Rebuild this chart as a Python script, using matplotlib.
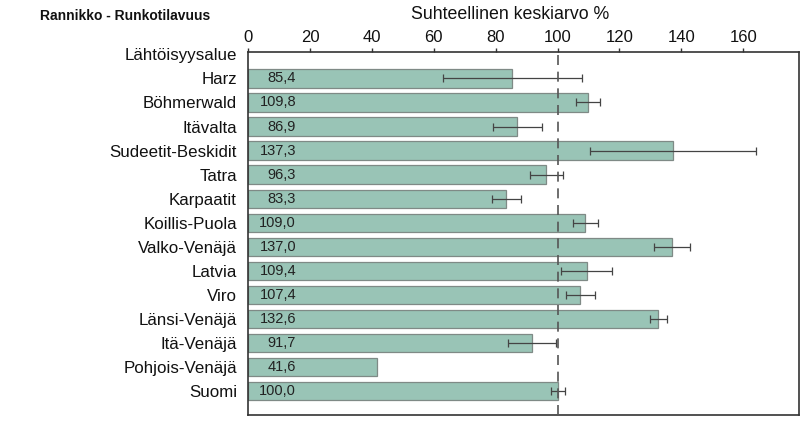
import matplotlib
matplotlib.use("Agg")
import matplotlib.pyplot as plt
import numpy as np

plt.rcParams["font.family"] = ["Liberation Sans", "DejaVu Sans"]

# ---------------------------------------------------------------------
# Data
# ---------------------------------------------------------------------
header = "Lähtöisyysalue"
regions = ["Harz", "Böhmerwald", "Itävalta", "Sudeetit-Beskidit", "Tatra",
           "Karpaatit", "Koillis-Puola", "Valko-Venäjä", "Latvia", "Viro",
           "Länsi-Venäjä", "Itä-Venäjä", "Pohjois-Venäjä", "Suomi"]
values = [85.4, 109.8, 86.9, 137.3, 96.3, 83.3, 109.0, 137.0, 109.4, 107.4,
          132.6, 91.7, 41.6, 100.0]
err_low = [62.9, 106.1, 79.0, 110.4, 91.0, 78.9, 105.1, 131.1, 101.0, 102.8,
           129.9, 84.0, None, 97.8]
err_high = [108.0, 113.6, 95.1, 164.2, 101.8, 88.1, 113.1, 142.9, 117.7, 112.2,
            135.5, 99.4, None, 102.4]
xticks = [0, 20, 40, 60, 80, 100, 120, 140, 160]

fig = plt.figure(figsize=(8.09, 4.28), dpi=100)
ax = fig.add_axes([0.3066, 0.0304, 0.6810, 0.8481])

y = np.arange(1, len(regions) + 1)
ax.barh(y, values, height=0.76, color="#99c4b6", edgecolor="#7f8a86", linewidth=0.9, zorder=2)

# asymmetric error bars
for yi, v, lo, hi in zip(y, values, err_low, err_high):
    if lo is None:
        continue
    ax.errorbar(v, yi, xerr=[[v - lo], [hi - v]], fmt="none", ecolor="#444444",
                elinewidth=0.9, capsize=3, capthick=0.9, zorder=3)

# value labels inside bars
for yi, v in zip(y, values):
    ax.text(15.5, yi, f"{v:.1f}".replace(".", ","), ha="right", va="center",
            fontsize=10.5, color="#222222", zorder=4)

ax.axvline(100, color="#555555", linestyle=(0, (6, 4)), linewidth=1.2, zorder=3)

ax.set_xlim(0, 178)
ax.set_ylim(15.0, -0.1)
ax.set_xticks(xticks)
ax.set_yticks([0] + list(y))
ax.set_yticklabels([header] + regions)
ax.xaxis.tick_top()
ax.tick_params(axis="x", direction="out", length=3, width=1, colors="#333333",
               labelsize=12, pad=2, labelcolor="#111111")
ax.tick_params(axis="y", length=0, pad=8, labelsize=12.2, labelcolor="#111111")
for s in ax.spines.values():
    s.set_color("#333333")
    s.set_linewidth(1.2)

fig.text(0.631, 0.965, "Suhteellinen keskiarvo %", ha="center", va="center",
         fontsize=12.8, color="#111111")
fig.text(0.05, 0.963, "Rannikko - Runkotilavuus", ha="left", va="center",
         fontsize=10, weight="bold", color="#111111")

fig.savefig("out.png", dpi=100)
